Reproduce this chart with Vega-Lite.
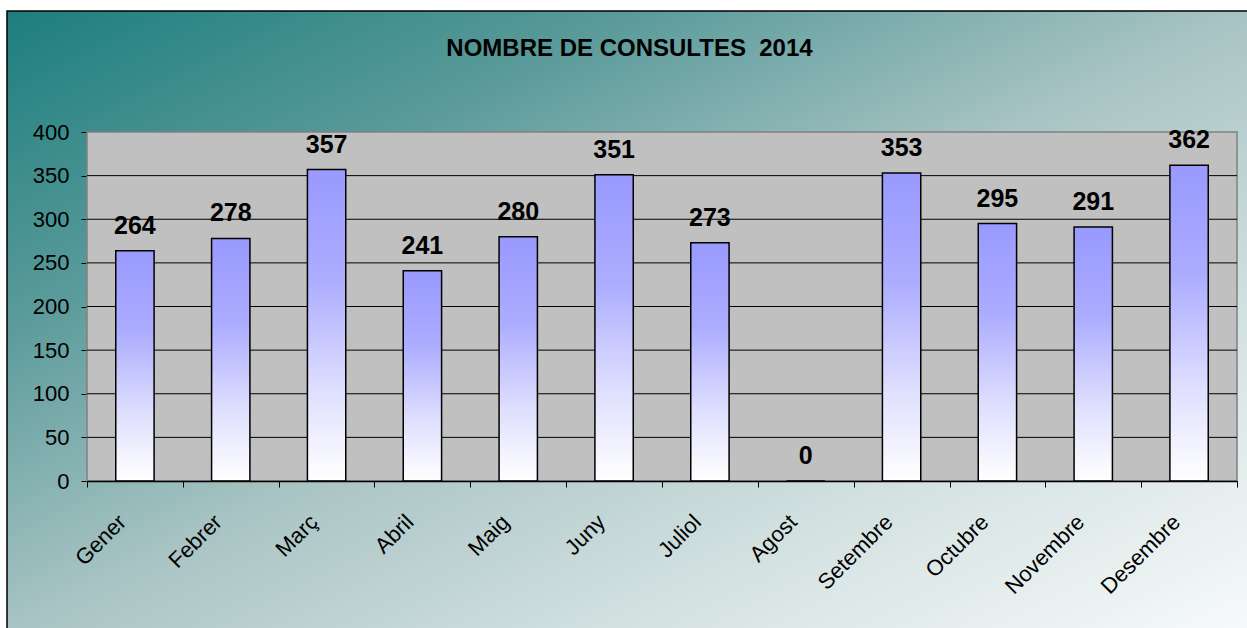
{
  "$schema": "https://vega.github.io/schema/vega-lite/v6.json",
  "autosize": "none",
  "padding": {"left": 7, "top": 11, "right": 0, "bottom": 0},
  "width": 1245,
  "height": 622,
  "background": "#ffffff",
  "view": {
    "fill": {
      "gradient": "linear", "x1": 0, "y1": 0, "x2": 1, "y2": 1,
      "stops": [
        {"offset": 0, "color": "#1d7e7e"},
        {"offset": 0.25, "color": "#5a9a9a"},
        {"offset": 0.5, "color": "#a9c4c4"},
        {"offset": 0.75, "color": "#d5e2e2"},
        {"offset": 1, "color": "#f7fafa"}
      ]
    },
    "stroke": "#000000",
    "strokeWidth": 1.5
  },
  "title": {
    "text": "NOMBRE DE CONSULTES\u00a0 2014",
    "frame": "group",
    "anchor": "middle",
    "offset": -69,
    "baseline": "alphabetic",
    "font": "Liberation Sans",
    "fontSize": 24,
    "fontWeight": "bold",
    "color": "#000000"
  },
  "config": {
    "axisX": {
      "offset": -152,
      "labelAngle": -45,
      "tickBand": "extent",
      "grid": false,
      "domainColor": "#000000",
      "domainWidth": 1.5,
      "tickColor": "#000000",
      "tickSize": 6,
      "labelFont": "Liberation Sans",
      "labelFontSize": 22,
      "labelColor": "#000000",
      "labelPadding": 24,
      "labelOffset": -20
    },
    "axisY": {
      "offset": -80,
      "grid": false,
      "tickCount": 8,
      "domainColor": "#000000",
      "domainWidth": 1,
      "tickColor": "#000000",
      "tickSize": 6,
      "labelFont": "Liberation Sans",
      "labelFontSize": 22,
      "labelColor": "#000000",
      "labelPadding": 12
    }
  },
  "data": {
    "values": [
      {"month": "Gener", "n": 264},
      {"month": "Febrer", "n": 278},
      {"month": "Març", "n": 357},
      {"month": "Abril", "n": 241},
      {"month": "Maig", "n": 280},
      {"month": "Juny", "n": 351},
      {"month": "Juliol", "n": 273},
      {"month": "Agost", "n": 0},
      {"month": "Setembre", "n": 353},
      {"month": "Octubre", "n": 295},
      {"month": "Novembre", "n": 291},
      {"month": "Desembre", "n": 362}
    ]
  },
  "layer": [
    {
      "data": {"values": [{"lo": 0, "hi": 400}]},
      "mark": {"type": "rect", "fill": "#c0c0c0", "stroke": "#808080", "strokeWidth": 1.5},
      "encoding": {
        "x": {"datum": "Gener", "type": "nominal", "bandPosition": 0, "title": null,
              "scale": {"type": "band", "domain": ["Gener","Febrer","Març","Abril","Maig","Juny","Juliol","Agost","Setembre","Octubre","Novembre","Desembre"], "range": [80, 1230], "paddingInner": 0, "paddingOuter": 0, "round": false}},
        "x2": {"datum": "Desembre", "bandPosition": 1},
        "y": {"field": "lo", "type": "quantitative", "title": null,
              "scale": {"domain": [0, 400], "range": [470, 121], "nice": false, "zero": true}},
        "y2": {"field": "hi"}
      }
    },
    {
      "data": {"values": [{"g": 50}, {"g": 100}, {"g": 150}, {"g": 200}, {"g": 250}, {"g": 300}, {"g": 350}]},
      "mark": {"type": "rule", "color": "#000000", "strokeWidth": 1},
      "encoding": {
        "x": {"datum": "Gener", "type": "nominal", "bandPosition": 0, "title": null},
        "x2": {"datum": "Desembre", "bandPosition": 1},
        "y": {"field": "g", "type": "quantitative", "title": null}
      }
    },
    {
      "mark": {
        "type": "bar",
        "width": {"band": 0.4},
        "stroke": "#000000",
        "strokeWidth": 1.5,
        "fill": {
          "gradient": "linear", "x1": 0, "y1": 0, "x2": 0, "y2": 1,
          "stops": [
            {"offset": 0, "color": "#9999ff"},
            {"offset": 0.35, "color": "#acacff"},
            {"offset": 0.7, "color": "#dedeff"},
            {"offset": 1, "color": "#ffffff"}
          ]
        }
      },
      "encoding": {
        "x": {"field": "month", "type": "nominal", "title": null, "sort": null},
        "y": {"field": "n", "type": "quantitative", "title": null}
      }
    },
    {
      "mark": {"type": "text", "font": "Liberation Sans", "fontSize": 25, "fontWeight": "bold", "color": "#000000", "baseline": "alphabetic", "dy": -17},
      "encoding": {
        "x": {"field": "month", "type": "nominal", "title": null, "sort": null},
        "y": {"field": "n", "type": "quantitative", "title": null},
        "text": {"field": "n", "type": "quantitative"}
      }
    }
  ]
}
